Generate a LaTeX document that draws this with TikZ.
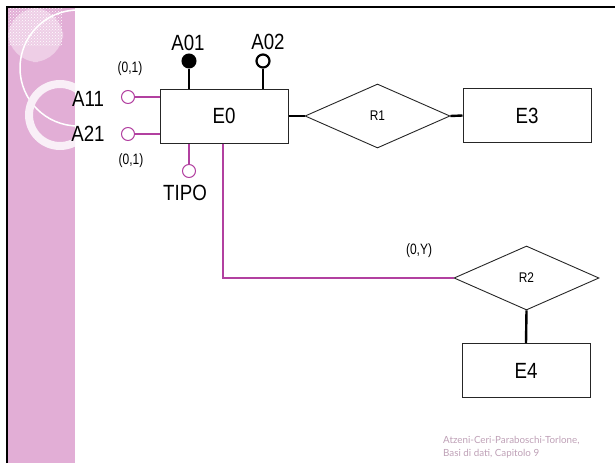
\documentclass[tikz,border=0pt]{standalone}
\usepackage{fontspec}
\setmainfont{Liberation Sans}
\newfontfamily\narrowfont[FakeStretch=0.85]{Liberation Sans}
\newfontfamily\cardfont[FakeStretch=0.8]{Liberation Sans}
\newfontfamily\footfont{Lato}
\usetikzlibrary{shapes.geometric, positioning, calc, patterns}
\definecolor{stripcol}{RGB}{226,174,214}
\definecolor{hatchcol}{RGB}{238,206,230}
\definecolor{linkpink}{RGB}{178,64,160}
\definecolor{footpink}{RGB}{190,160,182}

\begin{document}
\begin{tikzpicture}[x=1pt, y=-1pt,
  entity/.style={rectangle, draw=black!85, line width=1pt, minimum width=128pt, minimum height=54pt,
    inner sep=0pt, text centered, fill=white, font=\narrowfont\fontsize{22}{22}\selectfont},
  relation/.style={diamond, draw=black!85, line width=0.9pt, minimum width=145pt, minimum height=64pt,
    inner sep=0pt, fill=white, font=\narrowfont\fontsize{14}{14}\selectfont},
  idattr/.style={circle, draw=black, line width=2pt, fill=black, minimum size=13pt, inner sep=0pt},
  attr/.style={circle, draw=black, line width=2.2pt, fill=white, minimum size=13pt, inner sep=0pt},
  pinkattr/.style={circle, draw=linkpink, line width=1pt, fill=white, minimum size=13pt, inner sep=0pt},
  attrlabel/.style={font=\narrowfont\fontsize{22}{22}\selectfont, inner sep=0pt},
  card/.style={font=\cardfont\fontsize{15}{15}\selectfont, inner sep=0pt},
  blink/.style={draw=black, line width=2.4pt},
  plink/.style={draw=linkpink, line width=2.8pt}
]
\useasboundingbox (0,0) rectangle (615,463);

% slide background
\fill[stripcol] (8,8) rectangle (75,463);
\begin{scope}
  \clip (8,8) rectangle (75,463);
  \fill[hatchcol, rounded corners=30pt] (8,8) rectangle (63,62);
  \fill[pattern=crosshatch dots, pattern color=white] (8,8) rectangle (62,45);
  \draw[white, line width=1.5pt] (78,68) circle (58);
  \draw[white!80!stripcol, line width=8pt] (60,115) circle (31);
\end{scope}
\draw[black, line width=2.5pt] (7,463) -- (7,7) -- (615,7);

% entities and relations
\node (e0) [entity] at (224,116) {E0};
\node (e3) [entity] at (527,115.5) {E3};
\node (e4) [entity] at (526,370.5) {E4};
\node (r1) [relation] at (377.5,116) {R1};
\node (r2) [relation] at (526.5,278) {R2};

% attributes
\node (a01) [idattr] at (189,61) {};
\node (a02) [attr] at (263,61) {};
\node (a11) [pinkattr] at (128,97) {};
\node (a21) [pinkattr] at (128,134) {};
\node (tipo) [pinkattr] at (189,171) {};

\node (la01) [attrlabel] at (188,43) {A01};
\node (la02) [attrlabel] at (268,42) {A02};
\node (la11) [attrlabel] at (88,99) {A11};
\node (la21) [attrlabel] at (88,134) {A21};
\node (ltipo) [attrlabel] at (185,193) {TIPO};

\node (c11) [card] at (130,69) {(0,1)};
\node (c21) [card] at (131,161) {(0,1)};
\node (c0y) [card] at (419,251) {(0,Y)};

% connectors
\draw [blink] (a01) -- (a01 |- e0.north);
\draw [blink] (a02) -- (a02 |- e0.north);
\draw [plink] (a11) -- (a11 -| e0.west);
\draw [plink] (a21) -- (a21 -| e0.west);
\draw [plink] (tipo) -- (tipo |- e0.south);
\draw [blink] (e0.east) -- (r1.west);
\draw [blink] (r1.east) -- (e3.west);
\draw [plink] ($(e0.south)+(-1,0)$) |- (r2.west);
\draw [blink] (r2.south) -- (e4.north);

% footer
\node (foot) [anchor=base west, align=left, inner sep=0pt, text=footpink,
  font=\footfont\fontsize{9.8}{13}\selectfont] at (443,456)
  {Atzeni-Ceri-Paraboschi-Torlone,\\Basi di dati, Capitolo 9};

\end{tikzpicture}
\end{document}
